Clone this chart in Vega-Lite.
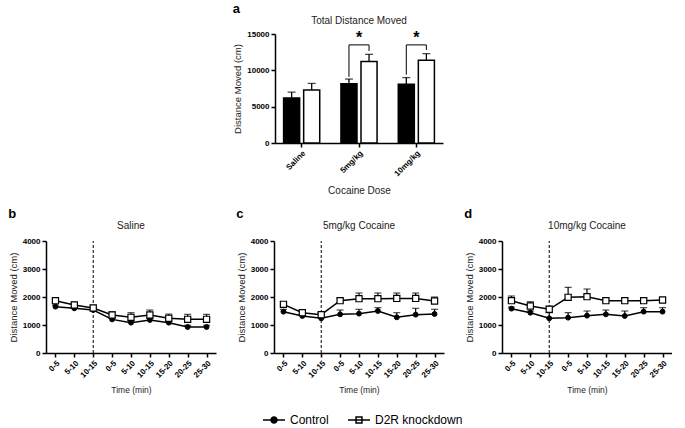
{
  "$schema": "https://vega.github.io/schema/vega-lite/v6.json",
  "padding": {"left": 8, "top": 2, "right": 0, "bottom": 0},
  "datasets": {
    "bars": [
      {"dose": "Saline", "group": "Control", "mean": 6200, "hi": 7000},
      {"dose": "Saline", "group": "D2R knockdown", "mean": 7300, "hi": 8200},
      {"dose": "5mg/kg", "group": "Control", "mean": 8150, "hi": 8800},
      {"dose": "5mg/kg", "group": "D2R knockdown", "mean": 11200, "hi": 12200},
      {"dose": "10mg/kg", "group": "Control", "mean": 8100, "hi": 9000},
      {"dose": "10mg/kg", "group": "D2R knockdown", "mean": 11400, "hi": 12300}
    ],
    "brackets": [
      {"dose": "5mg/kg", "group": "Control", "y": 9100, "seq": 1},
      {"dose": "5mg/kg", "group": "Control", "y": 13500, "seq": 2},
      {"dose": "5mg/kg", "group": "D2R knockdown", "y": 13500, "seq": 3},
      {"dose": "5mg/kg", "group": "D2R knockdown", "y": 12650, "seq": 4},
      {"dose": "10mg/kg", "group": "Control", "y": 9400, "seq": 1},
      {"dose": "10mg/kg", "group": "Control", "y": 13500, "seq": 2},
      {"dose": "10mg/kg", "group": "D2R knockdown", "y": 13500, "seq": 3},
      {"dose": "10mg/kg", "group": "D2R knockdown", "y": 12800, "seq": 4}
    ],
    "stars": [
      {"dose": "5mg/kg", "y": 14500, "label": "*"},
      {"dose": "10mg/kg", "y": 14500, "label": "*"}
    ],
    "lines": [
      {"panel": "b", "slot": 1, "group": "Control", "mean": 1655, "hi": 1710},
      {"panel": "b", "slot": 2, "group": "Control", "mean": 1595, "hi": 1650},
      {"panel": "b", "slot": 3, "group": "Control", "mean": 1535, "hi": 1590},
      {"panel": "b", "slot": 4, "group": "Control", "mean": 1200, "hi": 1260},
      {"panel": "b", "slot": 5, "group": "Control", "mean": 1083, "hi": 1140},
      {"panel": "b", "slot": 6, "group": "Control", "mean": 1178, "hi": 1240},
      {"panel": "b", "slot": 7, "group": "Control", "mean": 1083, "hi": 1140},
      {"panel": "b", "slot": 8, "group": "Control", "mean": 928, "hi": 990},
      {"panel": "b", "slot": 9, "group": "Control", "mean": 928, "hi": 990},
      {"panel": "b", "slot": 1, "group": "D2R knockdown", "mean": 1869, "hi": 1950},
      {"panel": "b", "slot": 2, "group": "D2R knockdown", "mean": 1714, "hi": 1810},
      {"panel": "b", "slot": 3, "group": "D2R knockdown", "mean": 1607, "hi": 1700},
      {"panel": "b", "slot": 4, "group": "D2R knockdown", "mean": 1357, "hi": 1470},
      {"panel": "b", "slot": 5, "group": "D2R knockdown", "mean": 1274, "hi": 1440},
      {"panel": "b", "slot": 6, "group": "D2R knockdown", "mean": 1357, "hi": 1535},
      {"panel": "b", "slot": 7, "group": "D2R knockdown", "mean": 1238, "hi": 1390},
      {"panel": "b", "slot": 8, "group": "D2R knockdown", "mean": 1202, "hi": 1380},
      {"panel": "b", "slot": 9, "group": "D2R knockdown", "mean": 1202, "hi": 1380},
      {"panel": "c", "slot": 1, "group": "Control", "mean": 1476, "hi": 1560},
      {"panel": "c", "slot": 2, "group": "Control", "mean": 1321, "hi": 1393},
      {"panel": "c", "slot": 3, "group": "Control", "mean": 1238, "hi": 1440},
      {"panel": "c", "slot": 4, "group": "Control", "mean": 1381, "hi": 1535},
      {"panel": "c", "slot": 5, "group": "Control", "mean": 1405, "hi": 1560},
      {"panel": "c", "slot": 6, "group": "Control", "mean": 1500, "hi": 1620},
      {"panel": "c", "slot": 7, "group": "Control", "mean": 1274, "hi": 1440},
      {"panel": "c", "slot": 8, "group": "Control", "mean": 1369, "hi": 1595},
      {"panel": "c", "slot": 9, "group": "Control", "mean": 1393, "hi": 1560},
      {"panel": "c", "slot": 1, "group": "D2R knockdown", "mean": 1738, "hi": 1790},
      {"panel": "c", "slot": 2, "group": "D2R knockdown", "mean": 1440, "hi": 1500},
      {"panel": "c", "slot": 3, "group": "D2R knockdown", "mean": 1369, "hi": 1440},
      {"panel": "c", "slot": 4, "group": "D2R knockdown", "mean": 1869, "hi": 1950},
      {"panel": "c", "slot": 5, "group": "D2R knockdown", "mean": 1940, "hi": 2142},
      {"panel": "c", "slot": 6, "group": "D2R knockdown", "mean": 1940, "hi": 2142},
      {"panel": "c", "slot": 7, "group": "D2R knockdown", "mean": 1950, "hi": 2142},
      {"panel": "c", "slot": 8, "group": "D2R knockdown", "mean": 1950, "hi": 2142},
      {"panel": "c", "slot": 9, "group": "D2R knockdown", "mean": 1857, "hi": 2000},
      {"panel": "d", "slot": 1, "group": "Control", "mean": 1583, "hi": 1640},
      {"panel": "d", "slot": 2, "group": "Control", "mean": 1440, "hi": 1500},
      {"panel": "d", "slot": 3, "group": "Control", "mean": 1238, "hi": 1440},
      {"panel": "d", "slot": 4, "group": "Control", "mean": 1262, "hi": 1440},
      {"panel": "d", "slot": 5, "group": "Control", "mean": 1333, "hi": 1500},
      {"panel": "d", "slot": 6, "group": "Control", "mean": 1381, "hi": 1535},
      {"panel": "d", "slot": 7, "group": "Control", "mean": 1321, "hi": 1500},
      {"panel": "d", "slot": 8, "group": "Control", "mean": 1476, "hi": 1620},
      {"panel": "d", "slot": 9, "group": "Control", "mean": 1476, "hi": 1620},
      {"panel": "d", "slot": 1, "group": "D2R knockdown", "mean": 1869, "hi": 2035},
      {"panel": "d", "slot": 2, "group": "D2R knockdown", "mean": 1679, "hi": 1833},
      {"panel": "d", "slot": 3, "group": "D2R knockdown", "mean": 1560, "hi": 1679},
      {"panel": "d", "slot": 4, "group": "D2R knockdown", "mean": 1988, "hi": 2345},
      {"panel": "d", "slot": 5, "group": "D2R knockdown", "mean": 2011, "hi": 2285},
      {"panel": "d", "slot": 6, "group": "D2R knockdown", "mean": 1869, "hi": 1940},
      {"panel": "d", "slot": 7, "group": "D2R knockdown", "mean": 1869, "hi": 1976},
      {"panel": "d", "slot": 8, "group": "D2R knockdown", "mean": 1869, "hi": 1976},
      {"panel": "d", "slot": 9, "group": "D2R knockdown", "mean": 1893, "hi": 1976}
    ]
  },
  "vconcat": [
    {
      "title": {"text": "a", "anchor": "start", "fontSize": 13, "fontWeight": "bold", "color": "black", "offset": 0},
      "vconcat": [
        {
          "width": 168,
          "height": 109,
          "title": {"text": "Total Distance Moved", "offset": 4},
          "encoding": {
            "x": {"field": "dose", "type": "nominal", "sort": ["Saline", "5mg/kg", "10mg/kg"], "scale": {"paddingInner": 0.37, "paddingOuter": 0.15}, "axis": {"labelAngle": -45, "title": "Cocaine Dose", "titleFontSize": 10, "titlePadding": 8}},
            "xOffset": {"field": "group", "type": "nominal", "scale": {"domain": ["Control", "D2R knockdown"], "paddingInner": 0.2}}
          },
          "layer": [
            {
              "data": {"name": "bars"},
              "mark": {"type": "bar", "stroke": "black", "strokeWidth": 1.5},
              "encoding": {
                "y": {"field": "mean", "type": "quantitative", "scale": {"domain": [0, 15000]}, "axis": {"values": [0, 5000, 10000, 15000], "format": "d", "labelOverlap": false, "title": "Distance Moved (cm)"}},
                "fill": {"field": "group", "type": "nominal", "scale": {"domain": ["Control", "D2R knockdown"], "range": ["black", "white"]},
                  "legend": {"orient": "none", "legendX": 216, "legendY": 374, "direction": "horizontal", "title": null, "labelFontSize": 12, "labelColor": "black", "symbolSize": 484, "symbolStrokeColor": "black", "symbolStrokeWidth": 1.5, "columnPadding": 16, "labelOffset": 4,
                    "encode": {"symbols": {"update": {"shape": {"signal": "datum.value === 'Control' ? 'M-1,0H1M-0.27,0A0.27,0.27 0 1,0 0.27,0A0.27,0.27 0 1,0 -0.27,0Z' : 'M-1,0H1M-0.27,-0.27H0.27V0.27H-0.27Z'"}, "stroke": {"value": "black"}, "strokeWidth": {"value": 1.5}}}}}}
              }
            },
            {
              "data": {"name": "bars"},
              "mark": {"type": "rule", "color": "black", "strokeWidth": 1.3},
              "encoding": {
                "y": {"field": "mean", "type": "quantitative", "scale": {"domain": [0, 15000]}, "axis": {"values": [0, 5000, 10000, 15000], "format": "d", "labelOverlap": false, "title": "Distance Moved (cm)"}},
                "y2": {"field": "hi"}
              }
            },
            {
              "data": {"name": "bars"},
              "mark": {"type": "tick", "orient": "horizontal", "color": "black", "size": 8, "thickness": 1.3},
              "encoding": {
                "y": {"field": "hi", "type": "quantitative", "scale": {"domain": [0, 15000]}, "axis": {"values": [0, 5000, 10000, 15000], "format": "d", "labelOverlap": false, "title": "Distance Moved (cm)"}}
              }
            },
            {
              "data": {"name": "brackets"},
              "mark": {"type": "line", "color": "black", "strokeWidth": 1},
              "encoding": {
                "y": {"field": "y", "type": "quantitative", "scale": {"domain": [0, 15000]}, "axis": {"values": [0, 5000, 10000, 15000], "format": "d", "labelOverlap": false, "title": "Distance Moved (cm)"}},
                "detail": {"field": "dose"},
                "order": {"field": "seq", "type": "quantitative"}
              }
            },
            {
              "data": {"name": "stars"},
              "mark": {"type": "text", "fontSize": 16, "fontWeight": "bold", "color": "black", "baseline": "middle"},
              "encoding": {
                "xOffset": null,
                "y": {"field": "y", "type": "quantitative", "scale": {"domain": [0, 15000]}, "axis": {"values": [0, 5000, 10000, 15000], "format": "d", "labelOverlap": false, "title": "Distance Moved (cm)"}},
                "text": {"field": "label"}
              }
            }
          ]
        }
      ]
    },
    {
      "spacing": 20,
      "hconcat": [
        {
          "title": {"text": "b", "anchor": "start", "fontSize": 13, "fontWeight": "bold", "color": "black", "offset": 0},
          "vconcat": [
            {
              "width": 170, "height": 112,
              "title": {"text": "Saline", "offset": 6},
              "data": {"name": "lines"},
              "transform": [{"filter": "datum.panel === 'b'"}],
              "encoding": {
                "x": {"field": "slot", "type": "ordinal", "scale": {"type": "point", "padding": 0.5}, "axis": {"labelAngle": -45, "labelExpr": "['0-5','5-10','10-15','0-5','5-10','10-15','15-20','20-25','25-30'][datum.value-1]", "title": "Time (min)", "titleFontSize": 8.5, "titlePadding": 6}},
                "y": {"field": "mean", "type": "quantitative", "scale": {"domain": [0, 4000]}, "axis": {"values": [0, 1000, 2000, 3000, 4000], "format": "d", "labelOverlap": false, "title": "Distance Moved (cm)"}}
              },
              "layer": [
                {"transform": [{"filter": "datum.slot === 3 && datum.group === 'Control'"}], "mark": {"type": "rule", "color": "black", "strokeWidth": 1, "strokeDash": [3, 2]}, "encoding": {"y": {"datum": 0, "type": "quantitative", "scale": {"domain": [0, 4000]}, "axis": {"values": [0, 1000, 2000, 3000, 4000], "format": "d", "labelOverlap": false, "title": "Distance Moved (cm)"}}, "y2": {"datum": 4000}}},
                {"mark": {"type": "rule", "color": "black", "strokeWidth": 1.2}, "encoding": {"y2": {"field": "hi"}}},
                {"mark": {"type": "tick", "orient": "horizontal", "color": "black", "size": 7, "thickness": 1.2}, "encoding": {"y": {"field": "hi", "type": "quantitative", "scale": {"domain": [0, 4000]}, "axis": {"values": [0, 1000, 2000, 3000, 4000], "format": "d", "labelOverlap": false, "title": "Distance Moved (cm)"}}}},
                {"mark": {"type": "line", "color": "black", "strokeWidth": 1.5}, "encoding": {"detail": {"field": "group"}}},
                {"transform": [{"filter": "datum.group === 'Control'"}], "mark": {"type": "point", "shape": "circle", "filled": true, "stroke": "black", "strokeWidth": 1, "opacity": 1, "size": 24}, "encoding": {"fill": {"field": "group", "type": "nominal", "scale": {"domain": ["Control", "D2R knockdown"], "range": ["black", "white"]}, "legend": null}}},
                {"transform": [{"filter": "datum.group === 'D2R knockdown'"}], "mark": {"type": "point", "shape": "square", "filled": true, "stroke": "black", "strokeWidth": 1.2, "opacity": 1, "size": 38}, "encoding": {"fill": {"field": "group", "type": "nominal", "scale": {"domain": ["Control", "D2R knockdown"], "range": ["black", "white"]}, "legend": null}}}
              ]
            }
          ]
        },
        {
          "title": {"text": "c", "anchor": "start", "fontSize": 13, "fontWeight": "bold", "color": "black", "offset": 0},
          "vconcat": [
            {
              "width": 170, "height": 112,
              "title": {"text": "5mg/kg Cocaine", "offset": 6},
              "data": {"name": "lines"},
              "transform": [{"filter": "datum.panel === 'c'"}],
              "encoding": {
                "x": {"field": "slot", "type": "ordinal", "scale": {"type": "point", "padding": 0.5}, "axis": {"labelAngle": -45, "labelExpr": "['0-5','5-10','10-15','0-5','5-10','10-15','15-20','20-25','25-30'][datum.value-1]", "title": "Time (min)", "titleFontSize": 8.5, "titlePadding": 6}},
                "y": {"field": "mean", "type": "quantitative", "scale": {"domain": [0, 4000]}, "axis": {"values": [0, 1000, 2000, 3000, 4000], "format": "d", "labelOverlap": false, "title": "Distance Moved (cm)"}}
              },
              "layer": [
                {"transform": [{"filter": "datum.slot === 3 && datum.group === 'Control'"}], "mark": {"type": "rule", "color": "black", "strokeWidth": 1, "strokeDash": [3, 2]}, "encoding": {"y": {"datum": 0, "type": "quantitative", "scale": {"domain": [0, 4000]}, "axis": {"values": [0, 1000, 2000, 3000, 4000], "format": "d", "labelOverlap": false, "title": "Distance Moved (cm)"}}, "y2": {"datum": 4000}}},
                {"mark": {"type": "rule", "color": "black", "strokeWidth": 1.2}, "encoding": {"y2": {"field": "hi"}}},
                {"mark": {"type": "tick", "orient": "horizontal", "color": "black", "size": 7, "thickness": 1.2}, "encoding": {"y": {"field": "hi", "type": "quantitative", "scale": {"domain": [0, 4000]}, "axis": {"values": [0, 1000, 2000, 3000, 4000], "format": "d", "labelOverlap": false, "title": "Distance Moved (cm)"}}}},
                {"mark": {"type": "line", "color": "black", "strokeWidth": 1.5}, "encoding": {"detail": {"field": "group"}}},
                {"transform": [{"filter": "datum.group === 'Control'"}], "mark": {"type": "point", "shape": "circle", "filled": true, "stroke": "black", "strokeWidth": 1, "opacity": 1, "size": 24}, "encoding": {"fill": {"field": "group", "type": "nominal", "scale": {"domain": ["Control", "D2R knockdown"], "range": ["black", "white"]}, "legend": null}}},
                {"transform": [{"filter": "datum.group === 'D2R knockdown'"}], "mark": {"type": "point", "shape": "square", "filled": true, "stroke": "black", "strokeWidth": 1.2, "opacity": 1, "size": 38}, "encoding": {"fill": {"field": "group", "type": "nominal", "scale": {"domain": ["Control", "D2R knockdown"], "range": ["black", "white"]}, "legend": null}}}
              ]
            }
          ]
        },
        {
          "title": {"text": "d", "anchor": "start", "fontSize": 13, "fontWeight": "bold", "color": "black", "offset": 0},
          "vconcat": [
            {
              "width": 170, "height": 112,
              "title": {"text": "10mg/kg Cocaine", "offset": 6},
              "data": {"name": "lines"},
              "transform": [{"filter": "datum.panel === 'd'"}],
              "encoding": {
                "x": {"field": "slot", "type": "ordinal", "scale": {"type": "point", "padding": 0.5}, "axis": {"labelAngle": -45, "labelExpr": "['0-5','5-10','10-15','0-5','5-10','10-15','15-20','20-25','25-30'][datum.value-1]", "title": "Time (min)", "titleFontSize": 8.5, "titlePadding": 6}},
                "y": {"field": "mean", "type": "quantitative", "scale": {"domain": [0, 4000]}, "axis": {"values": [0, 1000, 2000, 3000, 4000], "format": "d", "labelOverlap": false, "title": "Distance Moved (cm)"}}
              },
              "layer": [
                {"transform": [{"filter": "datum.slot === 3 && datum.group === 'Control'"}], "mark": {"type": "rule", "color": "black", "strokeWidth": 1, "strokeDash": [3, 2]}, "encoding": {"y": {"datum": 0, "type": "quantitative", "scale": {"domain": [0, 4000]}, "axis": {"values": [0, 1000, 2000, 3000, 4000], "format": "d", "labelOverlap": false, "title": "Distance Moved (cm)"}}, "y2": {"datum": 4000}}},
                {"mark": {"type": "rule", "color": "black", "strokeWidth": 1.2}, "encoding": {"y2": {"field": "hi"}}},
                {"mark": {"type": "tick", "orient": "horizontal", "color": "black", "size": 7, "thickness": 1.2}, "encoding": {"y": {"field": "hi", "type": "quantitative", "scale": {"domain": [0, 4000]}, "axis": {"values": [0, 1000, 2000, 3000, 4000], "format": "d", "labelOverlap": false, "title": "Distance Moved (cm)"}}}},
                {"mark": {"type": "line", "color": "black", "strokeWidth": 1.5}, "encoding": {"detail": {"field": "group"}}},
                {"transform": [{"filter": "datum.group === 'Control'"}], "mark": {"type": "point", "shape": "circle", "filled": true, "stroke": "black", "strokeWidth": 1, "opacity": 1, "size": 24}, "encoding": {"fill": {"field": "group", "type": "nominal", "scale": {"domain": ["Control", "D2R knockdown"], "range": ["black", "white"]}, "legend": null}}},
                {"transform": [{"filter": "datum.group === 'D2R knockdown'"}], "mark": {"type": "point", "shape": "square", "filled": true, "stroke": "black", "strokeWidth": 1.2, "opacity": 1, "size": 38}, "encoding": {"fill": {"field": "group", "type": "nominal", "scale": {"domain": ["Control", "D2R knockdown"], "range": ["black", "white"]}, "legend": null}}}
              ]
            }
          ]
        }
      ]
    }
  ],
  "spacing": 12,
  "center": true,
  "config": {
    "font": "Liberation Sans",
    "view": {"stroke": null},
    "axis": {"grid": false, "domainColor": "black", "domainWidth": 1.5, "tickColor": "black", "tickWidth": 1.5, "tickSize": 4, "labelFontSize": 8, "labelFontWeight": "bold", "labelColor": "black", "titleFontSize": 9.5, "titleFontWeight": "normal", "titleColor": "#222", "labelPadding": 2},
    "title": {"fontSize": 10, "fontWeight": "normal", "color": "#222"}
  }
}
